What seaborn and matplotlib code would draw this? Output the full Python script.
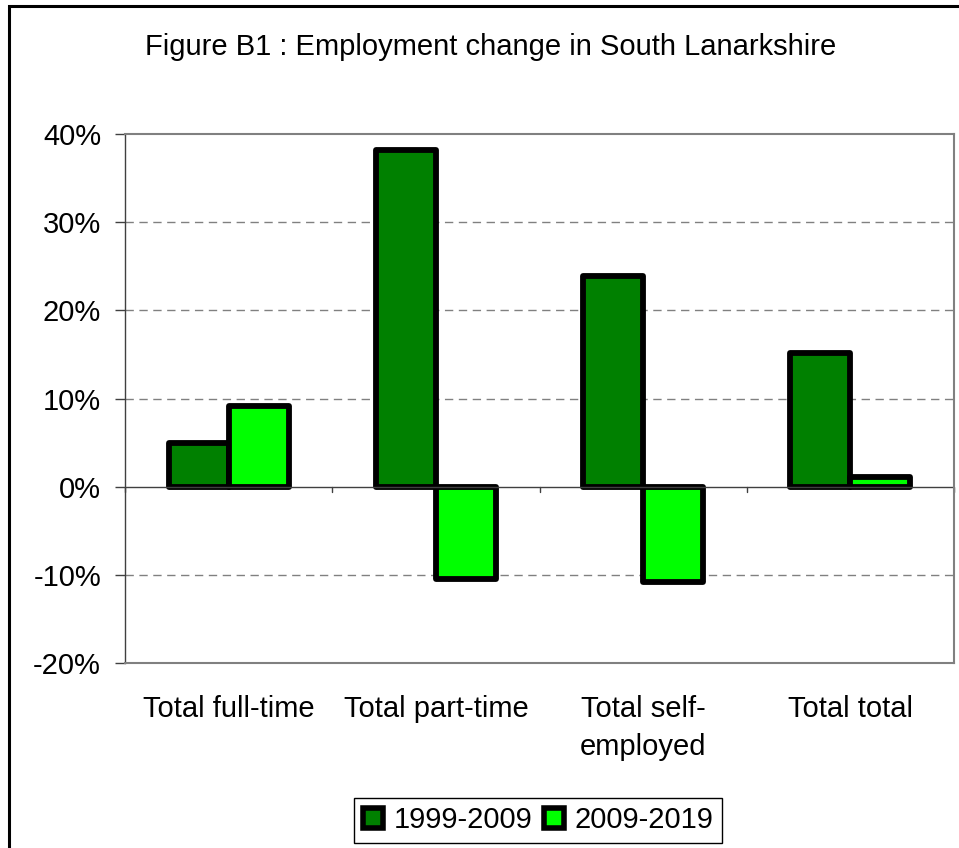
import numpy as np
import pandas as pd
import matplotlib
matplotlib.use('Agg')
import matplotlib.pyplot as plt
from matplotlib.patches import Patch, Rectangle
import seaborn as sns

categories = ['Total full-time', 'Total part-time', 'Total self-\nemployed', 'Total total']
periods = ['1999-2009', '2009-2019']
change_1999_2009 = [4.9, 38.2, 23.9, 15.2]
change_2009_2019 = [9.2, -10.5, -10.8, 1.1]
y_ticks = [-20, -10, 0, 10, 20, 30, 40]
colours = ['#008000', '#00ff00']

df = pd.DataFrame({
    'category': categories * 2,
    'period': [periods[0]] * 4 + [periods[1]] * 4,
    'change': change_1999_2009 + change_2009_2019,
})

sns.set_style('white')
plt.rcParams['font.family'] = ['Liberation Sans', 'DejaVu Sans']
plt.rcParams['font.size'] = 21
plt.rcParams['text.color'] = 'black'
plt.rcParams['xtick.color'] = 'black'
plt.rcParams['ytick.color'] = 'black'
plt.rcParams['xtick.labelcolor'] = 'black'
plt.rcParams['ytick.labelcolor'] = 'black'

fig = plt.figure(figsize=(9.59, 8.48), dpi=100)
ax = fig.add_axes([125 / 959, 1 - 663 / 848, 829 / 959, 529 / 848])

sns.barplot(data=df, x='category', y='change', hue='period', order=categories,
            hue_order=periods, palette=colours, width=0.58, ax=ax,
            edgecolor='black', linewidth=4.2, legend=False, saturation=1)
for bar in ax.patches:
    bar.set_joinstyle('round')

# gridlines
for y in y_ticks[1:-1]:
    if y != 0:
        ax.axhline(y, color='#808080', lw=1, ls=(0, (6, 4)), zorder=0)
ax.axhline(0, color='#404040', lw=1, zorder=1)

# category boundary ticks on the zero line
for xb in np.arange(-0.5, len(categories), 1.0):
    ax.plot([xb, xb], [0, -0.6], color='#404040', lw=1, clip_on=False, zorder=1)

ax.set_xlim(-0.5, len(categories) - 0.5)
ax.set_ylim(-20, 40)
ax.set_yticks(y_ticks)
ax.set_yticklabels([f'{v}%' for v in y_ticks])
ax.tick_params(axis='y', left=True, length=7.2, width=1, pad=10, color='#404040')
ax.tick_params(axis='x', length=0, pad=23)
for lbl in ax.get_xticklabels():
    lbl.set_linespacing(1.45)
ax.set_xlabel('')
ax.set_ylabel('')

ax.spines['left'].set_color('#404040')
ax.spines['left'].set_linewidth(1)
for side in ['top', 'right', 'bottom']:
    ax.spines[side].set_color('#808080')
    ax.spines[side].set_linewidth(1.5)

fig.text(491 / 959, 1 - 47 / 848, 'Figure B1 : Employment change in South Lanarkshire',
         ha='center', va='center', fontsize=21)

handles = [Patch(facecolor=c, edgecolor='black', linewidth=4, joinstyle='round')
           for c in colours]
fig.legend(handles, periods, loc='lower center', bbox_to_anchor=(538 / 959, 5 / 848),
           ncol=2, frameon=True, fancybox=False, edgecolor='black', framealpha=1,
           handlelength=0.7, handleheight=0.7, handletextpad=0.35,
           columnspacing=0.4, borderpad=0.3, borderaxespad=0, fontsize=21)

# outer chart border (cropped on right and bottom)
fig.patches.append(Rectangle((9 / 959, -0.1), 1.2, 1 - 6 / 848 + 0.1,
                             transform=fig.transFigure, fill=False,
                             edgecolor='black', lw=2.2))

fig.savefig('out.png', dpi=100)
